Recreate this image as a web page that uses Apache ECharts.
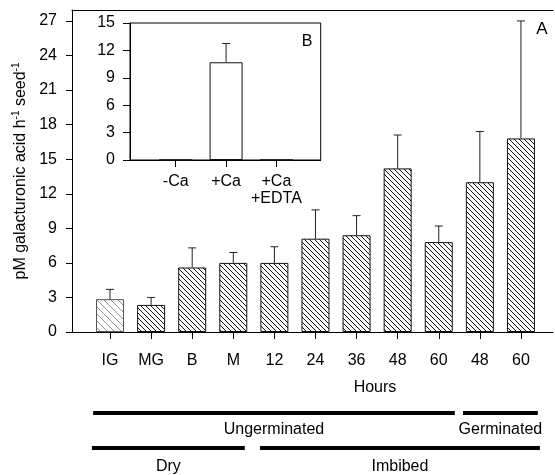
<!DOCTYPE html>
<html><head><meta charset="utf-8">
<script src="https://cdn.jsdelivr.net/npm/echarts@6.0.0/dist/echarts.min.js"></script>
<style>html,body{margin:0;padding:0;background:#fff}#c{width:555px;height:475px}</style>
</head><body><div id="c"></div><script>
// ---- data ----
const hourLabels = ['IG','MG','B','M','12','24','36','48','60','48','60'];
const activity   = [2.85, 2.35, 5.6, 6.0, 6.0, 8.1, 8.4, 14.2, 7.8, 13.0, 16.8];
const activitySE = [0.85, 0.65, 1.7, 0.9, 1.4, 2.5, 1.7, 2.9, 1.4, 4.4, 10.2];
const insetLabels   = ['-Ca', '+Ca', '+Ca\n+EDTA'];
const insetActivity = [0, 10.7, 0];
const insetSE       = [0, 2.05, 0];
const stageNames = ['Ungerminated', 'Germinated', 'Dry', 'Imbibed'];
const stageFirst = [0, 9, 0, 4];   // first category index of each stage
const stageLast  = [8, 10, 3, 10]; // last category index of each stage

// ---- styling helpers ----
const FONT = 'Liberation Sans, Arial, sans-serif';
const FS = 16;
function hatch(step, color, width) {
  const c = document.createElement('canvas'); c.width = step; c.height = step;
  const ctx = c.getContext('2d');
  ctx.fillStyle = '#fff'; ctx.fillRect(0, 0, step, step);
  ctx.strokeStyle = color; ctx.lineWidth = width; ctx.beginPath();
  for (const k of [-step, 0, step]) { ctx.moveTo(k, 0); ctx.lineTo(k + step, step); }
  ctx.stroke(); return c;
}
const darkHatch = { image: hatch(5, '#111', 1), repeat: 'repeat' };
const lightHatch = { image: hatch(7, '#777', 0.8), repeat: 'repeat' };

const mainBars = activity.map((v, i) => ({
  value: [i + 1, v],
  itemStyle: { color: i === 0 ? lightHatch : darkHatch, borderColor: i === 0 ? '#555' : '#111', borderWidth: 1 }
}));
const mainErr = activity.map((v, i) => [i + 1, v, v + activitySE[i]]);
const insetBars = insetActivity.map((v, i) => [i + 1, v]);
const insetErr = insetActivity.map((v, i) => [i + 1, v, v + insetSE[i]]);

function errItem(params, api) {
  const x = api.value(0), lo = api.value(1), hi = api.value(2);
  if (hi - lo <= 0) return null;
  const p0 = api.coord([x, lo]), p1 = api.coord([x, hi]);
  const st = { stroke: '#222', lineWidth: 1 };
  return { type: 'group', children: [
    { type: 'line', shape: { x1: p0[0], y1: p0[1], x2: p1[0], y2: p1[1] }, style: st },
    { type: 'line', shape: { x1: p1[0] - 4, y1: p1[1], x2: p1[0] + 4, y2: p1[1] }, style: st }
  ]};
}

const black = { color: '#000', width: 1 };
const chart = echarts.init(document.getElementById('c'), null, { renderer: 'canvas' });
const option = {
  animation: false,
  backgroundColor: '#fff',
  textStyle: { fontFamily: FONT, color: '#000' },
  grid: [
    { left: 72, right: 2, top: 10, bottom: 143, outerBoundsMode: 'none', containLabel: false },
    { left: 130, top: 23, width: 190.7, height: 137, show: true, borderColor: '#000', borderWidth: 1,
      backgroundColor: '#fff', outerBoundsMode: 'none', containLabel: false }
  ],
  xAxis: [
    { gridIndex: 0, type: 'value', min: 0.075, max: 11.78,
      axisLine: { show: true, onZero: false, lineStyle: black },
      axisTick: { show: true, length: 7, customValues: hourLabels.map((_, i) => i + 1), lineStyle: black },
      axisLabel: { show: true, customValues: hourLabels.map((_, i) => i + 1), margin: 21, fontSize: FS, color: '#000', fontFamily: FONT,
        formatter: v => hourLabels[Math.round(v) - 1] },
      splitLine: { show: false } },
    { gridIndex: 0, type: 'value', position: 'top', min: 0.075, max: 11.78,
      axisLine: { show: true, onZero: false, lineStyle: black }, axisTick: { show: false },
      axisLabel: { show: false }, splitLine: { show: false } },
    { gridIndex: 1, type: 'value', min: 0.091, max: 3.88,
      axisLine: { show: true, onZero: false, lineStyle: black },
      axisTick: { show: true, length: 7, customValues: [1, 2, 3], lineStyle: black },
      axisLabel: { show: true, customValues: [1, 2, 3], margin: 13, fontSize: FS, lineHeight: 17, color: '#000', fontFamily: FONT,
        formatter: v => insetLabels[Math.round(v) - 1] },
      splitLine: { show: false } }
  ],
  yAxis: [
    { gridIndex: 0, type: 'value', min: 0, max: 27.95, interval: 3,
      axisLine: { show: true, lineStyle: black },
      axisTick: { show: true, length: 6, lineStyle: black },
      axisLabel: { fontSize: FS, margin: 15, color: '#000', fontFamily: FONT, showMaxLabel: false },
      splitLine: { show: false },
      name: '{n|pM galacturonic acid h}{s|-1}{n| seed}{s|-1}',
      nameLocation: 'middle', nameGap: 42,
      nameTextStyle: { rich: {
        n: { fontSize: FS, lineHeight: 19, color: '#000', fontFamily: FONT },
        s: { fontSize: 10, lineHeight: 11, verticalAlign: 'top', color: '#000', fontFamily: FONT }
      } } },
    { gridIndex: 1, type: 'value', min: 0, max: 15, interval: 3,
      axisLine: { show: true, lineStyle: black },
      axisTick: { show: true, length: 7, lineStyle: black },
      axisLabel: { fontSize: FS, margin: 15, color: '#000', fontFamily: FONT },
      splitLine: { show: false } }
  ],
  series: [
    { type: 'bar', xAxisIndex: 0, yAxisIndex: 0, barWidth: 28, data: mainBars },
    { type: 'custom', xAxisIndex: 0, yAxisIndex: 0, renderItem: errItem, data: mainErr, z: 3 },
    { type: 'bar', xAxisIndex: 2, yAxisIndex: 1, barWidth: 33, data: insetBars,
      itemStyle: { color: '#fff', borderColor: '#111', borderWidth: 1 } },
    { type: 'custom', xAxisIndex: 2, yAxisIndex: 1, renderItem: errItem, data: insetErr, z: 3 }
  ]
};
chart.setOption(option);

// ---- annotations (positions derived from the x axis) ----
const toPx = v => chart.convertToPixel({ xAxisIndex: 0 }, v);
const padL = [0.41, 0.41, 0.44, 0.35];
const padR = [0.39, 0.41, 0.28, 0.46];
const rowLineY = [411, 446];
const rowTextY = [430, 467];
const rows = [0, 0, 1, 1];
const graphics = [];
stageNames.forEach((name, k) => {
  const x0 = toPx(stageFirst[k] + 1 - padL[k]);
  const x1 = toPx(stageLast[k] + 1 + padR[k]);
  graphics.push({ type: 'rect', shape: { x: x0, y: rowLineY[rows[k]], width: x1 - x0, height: 4 }, style: { fill: '#000' } });
  graphics.push({ type: 'text', x: (x0 + x1) / 2, y: rowTextY[rows[k]],
    style: { text: name, fontSize: FS, fontFamily: FONT, fill: '#000', align: 'center', verticalAlign: 'middle' } });
});
graphics.push({ type: 'text', x: 375, y: 388, style: { text: 'Hours', fontSize: FS, fontFamily: FONT, fill: '#000', align: 'center', verticalAlign: 'middle' } });
graphics.push({ type: 'text', x: 542, y: 29, style: { text: 'A', fontSize: 17, fontFamily: FONT, fill: '#000', align: 'center', verticalAlign: 'middle' } });
graphics.push({ type: 'text', x: 307, y: 42, style: { text: 'B', fontSize: FS, fontFamily: FONT, fill: '#000', align: 'center', verticalAlign: 'middle' } });
chart.setOption({ graphic: graphics });
</script></body></html>
